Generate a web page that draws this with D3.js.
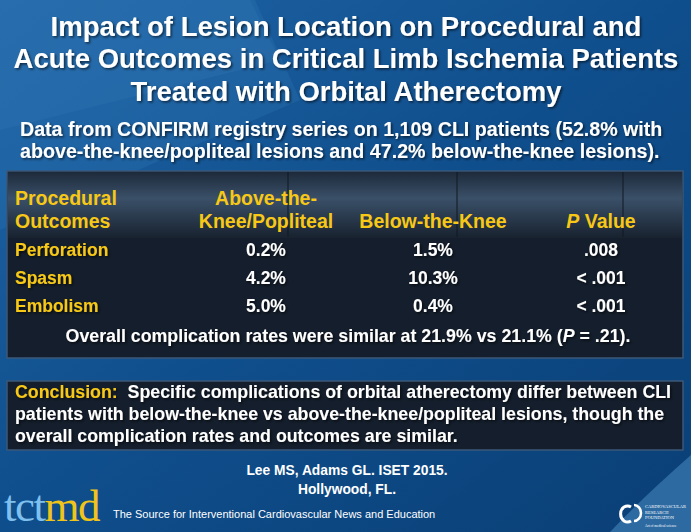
<!DOCTYPE html>
<html><head><meta charset="utf-8">
<script src="https://cdn.jsdelivr.net/npm/d3@7"></script>
<style>html,body{margin:0;padding:0;background:#0d4a85;}svg{display:block;}</style>
</head><body>
<script>
const titleLines = ["Impact of Lesion Location on Procedural and","Acute Outcomes in Critical Limb Ischemia Patients","Treated with Orbital Atherectomy"];
const subtitleLines = ["Data from CONFIRM registry series on 1,109 CLI patients (52.8% with","above-the-knee/popliteal lesions and 47.2% below-the-knee lesions)."];
const outcomes = ["Perforation","Spasm","Embolism"];
const atkValues = ["0.2%","4.2%","5.0%"];
const btkValues = ["1.5%","10.3%","0.4%"];
const pValues = [".008","< .001","< .001"];
const columns = ["outcome","atk","btk","p"];
const overallNote = "Overall complication rates were similar at 21.9% vs 21.1% (";
const conclusionLines = ["Specific complications of orbital atherectomy differ between CLI","patients with below-the-knee vs above-the-knee/popliteal lesions, though the","overall complication rates and outcomes are similar."];
const citation = ["Lee MS, Adams GL. ISET 2015.","Hollywood, FL."];
const tagline = "The Source for Interventional Cardiovascular News and Education";

const W=691,H=532;
const F="'Liberation Sans', Arial, sans-serif";
const svg=d3.select("body").append("svg").attr("width",W).attr("height",H);
const defs=svg.append("defs");
const bg=defs.append("linearGradient").attr("id","bg").attr("x1","0").attr("y1","0").attr("x2","1").attr("y2","1");
bg.append("stop").attr("offset","0").attr("stop-color","#1f64a6");
bg.append("stop").attr("offset","0.5").attr("stop-color","#0f4e8c");
bg.append("stop").attr("offset","1").attr("stop-color","#0a3f75");
svg.append("rect").attr("width",W).attr("height",H).attr("fill","url(#bg)");
svg.append("path").attr("d","M0,0 L255,0 L300,100 L0,230 Z").attr("fill","#2c73b3").attr("opacity",0.35);
svg.append("path").attr("d","M0,0 L250,0 L280,60 L0,130 Z").attr("fill","#3a80bf").attr("opacity",0.2);
svg.append("path").attr("d","M691,455 Q640,500 610,532 L691,532 Z").attr("fill","#2d6aa2");
const sh=defs.append("filter").attr("id","sh").attr("x","-5%").attr("y","-20%").attr("width","110%").attr("height","140%");
sh.append("feDropShadow").attr("dx",1.5).attr("dy",1.5).attr("stdDeviation",0.8).attr("flood-color","#000").attr("flood-opacity",0.6);

function fitText(sel,w){const n=sel.node();const l=n.getComputedTextLength();if(l>0){const fs=parseFloat(sel.attr("font-size"));sel.attr("font-size",fs*w/l);}}

const titleY=[36,68,101], titleW=[591,665,431];
titleLines.forEach((t,i)=>{
  const s=svg.append("text").attr("x",346).attr("y",titleY[i]).attr("text-anchor","middle")
   .attr("font-family",F).attr("font-weight","bold").attr("font-size",25).attr("fill","#fff").attr("filter","url(#sh)").text(t);
  fitText(s,titleW[i]);
});
const subY=[136,158], subW=[643,640];
subtitleLines.forEach((t,i)=>{
  const s=svg.append("text").attr("x",20).attr("y",subY[i]).attr("text-anchor","start")
   .attr("font-family",F).attr("font-weight","bold").attr("font-size",19).attr("fill","#fff").attr("filter","url(#sh)").text(t);
  fitText(s,subW[i]);
});

// table
const tb={x:7,y:171,w:676,h:187,hh:66};
svg.append("rect").attr("x",tb.x).attr("y",tb.y).attr("width",tb.w).attr("height",tb.h).attr("fill","#141e2c").attr("stroke","#3b5878").attr("stroke-width",1.5);
const hg=defs.append("linearGradient").attr("id","hg").attr("x1","0").attr("y1","0").attr("x2","0").attr("y2","1");
hg.append("stop").attr("offset","0").attr("stop-color","#1d2a3b");
hg.append("stop").attr("offset","0.4").attr("stop-color","#3a5068");
hg.append("stop").attr("offset","1").attr("stop-color","#18222f");
svg.append("rect").attr("x",tb.x+1).attr("y",tb.y+1).attr("width",tb.w-2).attr("height",tb.hh).attr("fill","url(#hg)");
const sepX=[288,457,623];
sepX.forEach(x=>svg.append("line").attr("x1",x).attr("x2",x).attr("y1",tb.y+1).attr("y2",tb.y+tb.hh).attr("stroke","#101822").attr("stroke-width",1));

const colX=d3.scaleOrdinal().domain(columns).range([15,266,433,601]);
const anchor={outcome:"start",atk:"middle",btk:"middle",p:"middle"};
const yellow="#f7c816";
const hdr=svg.append("g").attr("font-family",F).attr("font-weight","bold").attr("font-size",19.5).attr("fill",yellow);
hdr.append("text").attr("x",colX("outcome")).attr("y",205).text("Procedural");
hdr.append("text").attr("x",colX("outcome")).attr("y",228).text("Outcomes");
hdr.append("text").attr("x",colX("atk")).attr("y",205).attr("text-anchor","middle").text("Above-the-");
hdr.append("text").attr("x",colX("atk")).attr("y",228).attr("text-anchor","middle").text("Knee/Popliteal");
hdr.append("text").attr("x",colX("btk")).attr("y",228).attr("text-anchor","middle").text("Below-the-Knee");
const pv=hdr.append("text").attr("x",colX("p")).attr("y",228).attr("text-anchor","middle");
pv.append("tspan").attr("font-style","italic").text("P");
pv.append("tspan").text(" Value");

const rowY=d3.scaleBand().domain(outcomes).range([235,319]);
const rows=outcomes.map((o,i)=>({outcome:o,atk:atkValues[i],btk:btkValues[i],p:pValues[i]}));
const rg=svg.append("g").attr("font-family",F).attr("font-weight","bold").attr("font-size",17.5);
rows.forEach(r=>{
  columns.forEach(c=>{
    rg.append("text").attr("x",colX(c)).attr("y",rowY(r.outcome)+rowY.bandwidth()/2+7)
      .attr("text-anchor",anchor[c]).attr("fill",c==="outcome"?yellow:"#fff").attr("filter","url(#sh)").text(r[c]);
  });
});
const ov=svg.append("text").attr("x",348).attr("y",342).attr("text-anchor","middle").attr("font-family",F).attr("font-weight","bold").attr("font-size",17.8).attr("fill","#fff").attr("filter","url(#sh)");
ov.append("tspan").text(overallNote);
ov.append("tspan").attr("font-style","italic").text("P");
ov.append("tspan").text(" = .21).");

// conclusion box
svg.append("rect").attr("x",7).attr("y",381).attr("width",676).attr("height",69).attr("fill","#141e2c").attr("stroke","#3b5878").attr("stroke-width",1.5);
const cg=svg.append("g").attr("font-family",F).attr("font-weight","bold").attr("font-size",17.8).attr("fill","#fff").attr("filter","url(#sh)");
const cY=[398,420,442];
const c0=cg.append("text").attr("x",15).attr("y",cY[0]);
c0.append("tspan").attr("fill",yellow).text("Conclusion:");
c0.append("tspan").text("\u00a0 "+conclusionLines[0]);
cg.append("text").attr("x",15).attr("y",cY[1]).text(conclusionLines[1]);
cg.append("text").attr("x",15).attr("y",cY[2]).text(conclusionLines[2]);

// footer
const fg=svg.append("g").attr("font-family",F).attr("font-weight","bold").attr("font-size",13.8).attr("fill","#fff").attr("text-anchor","middle");
fg.append("text").attr("x",347).attr("y",475).text(citation[0]);
fg.append("text").attr("x",347).attr("y",494).text(citation[1]);
const logo=svg.append("text").attr("x",4).attr("y",521).attr("font-family","'Liberation Serif', 'DejaVu Serif', serif").attr("font-size",45).attr("letter-spacing",-1.5);
logo.append("tspan").attr("fill","#7fc0ee").text("tct");
logo.append("tspan").attr("fill","#f0c419").text("md");
svg.append("text").attr("x",113).attr("y",518).attr("font-family",F).attr("font-size",11).attr("fill","#fff").text(tagline);
const crf=svg.append("g");
crf.append("path").attr("d","M631,507 a7,8 0 1 0 0,14").attr("fill","none").attr("stroke","#fff").attr("stroke-width",3);
crf.append("path").attr("d","M634,505 a7,8 0 0 1 0,16").attr("fill","none").attr("stroke","#fff").attr("stroke-width",2.5);
const ct=crf.append("g").attr("font-family","'Liberation Serif', serif").attr("font-size",4.5).attr("fill","#fff");
["CARDIOVASCULAR","RESEARCH","FOUNDATION"].forEach((t,i)=>ct.append("text").attr("x",645).attr("y",508+i*5.5).text(t));
ct.append("text").attr("x",645).attr("y",527).attr("font-size",3.5).text("Art of medical science");
</script>
</body></html>
